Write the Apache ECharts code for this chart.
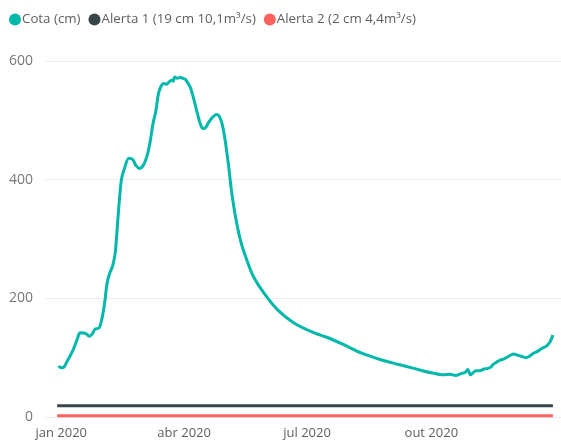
<!DOCTYPE html>
<html>
<head>
<meta charset="utf-8">
<script src="https://cdn.jsdelivr.net/npm/echarts@6/dist/echarts.min.js"></script>
<style>
  html, body { margin: 0; padding: 0; background: #ffffff; }
  #chart { width: 561px; height: 445px; }
</style>
</head>
<body>
<div id="chart"></div>
<script>
// Cota (cm) daily gauge readings, 2020
const cotaDates = [
  '2019-12-30','2020-01-01','2020-01-03','2020-01-05','2020-01-10','2020-01-13','2020-01-15',
  '2020-01-19','2020-01-22','2020-01-24','2020-01-26','2020-01-29','2020-01-31','2020-02-02',
  '2020-02-04','2020-02-06','2020-02-08','2020-02-10','2020-02-12','2020-02-14','2020-02-15',
  '2020-02-17','2020-02-20','2020-02-23','2020-02-25','2020-02-28','2020-03-02','2020-03-05',
  '2020-03-07','2020-03-09','2020-03-11','2020-03-13','2020-03-15','2020-03-17','2020-03-19',
  '2020-03-21','2020-03-23','2020-03-24','2020-03-25','2020-03-27','2020-03-29','2020-03-31',
  '2020-04-02','2020-04-04','2020-04-06','2020-04-09','2020-04-11','2020-04-13','2020-04-15',
  '2020-04-17','2020-04-19','2020-04-22','2020-04-25','2020-04-27','2020-04-29','2020-05-01',
  '2020-05-04','2020-05-06','2020-05-09','2020-05-13','2020-05-17','2020-05-22','2020-05-30',
  '2020-06-09','2020-06-21','2020-07-06','2020-07-16','2020-07-29','2020-08-10','2020-08-24',
  '2020-09-06','2020-09-18','2020-09-30','2020-10-10','2020-10-15','2020-10-19','2020-10-23',
  '2020-10-26','2020-10-28','2020-10-30','2020-11-03','2020-11-06','2020-11-09','2020-11-12',
  '2020-11-14','2020-11-16','2020-11-18','2020-11-21','2020-11-24','2020-11-27','2020-12-01',
  '2020-12-04','2020-12-07','2020-12-10','2020-12-13','2020-12-16','2020-12-19','2020-12-22',
  '2020-12-25','2020-12-27','2020-12-28','2020-12-30'
];
const cotaValues = [
  86, 83, 84, 92, 114, 132, 142,
  141, 136, 140, 148, 150, 164, 190,
  226, 243, 254, 277, 335, 390, 405,
  420, 436, 434, 425, 419, 425, 444,
  466, 495, 515, 545, 558, 562, 561,
  565, 568, 566, 573, 571, 572, 571,
  569, 562, 553, 528, 510, 494, 486,
  488, 496, 505, 510, 507, 495, 472,
  422, 382, 338, 295, 267, 238, 209,
  181, 159, 142, 134, 121, 108, 97,
  89, 82, 75, 71, 72, 70, 73,
  75, 80, 71, 78, 78, 81, 82,
  84, 89, 92, 96, 98, 102, 106,
  104, 102, 100, 103, 108, 111, 116,
  119, 124, 127, 138
];

// Alert thresholds, constant over the period
const alertDates = ['2019-12-29', '2020-12-30'];
const alerta1Values = [19, 19];
const alerta2Values = [2, 2];

const seriesNames = ['Cota (cm)', 'Alerta 1 (19 cm 10,1m³/s)', 'Alerta 2 (2 cm 4,4m³/s)'];
const seriesColors = ['#01B8AA', '#374649', '#FD625E'];

// Quarterly axis labels
const monthNames = ['jan','fev','mar','abr','mai','jun','jul','ago','set','out','nov','dez'];
const xTickDates = ['2020-01-01', '2020-04-01', '2020-07-01', '2020-10-01'];
const yTicks = [0, 200, 400, 600];

function toTime(s) {
  const p = s.split('-').map(Number);
  return new Date(p[0], p[1] - 1, p[2]).getTime();
}
function pairs(dates, values) {
  return dates.map((d, i) => [toTime(d), values[i]]);
}

const FONT = 'Open Sans';
const chart = echarts.init(document.getElementById('chart'), null, { renderer: 'canvas' });

chart.setOption({
  animation: false,
  backgroundColor: '#ffffff',
  color: seriesColors,
  textStyle: { fontFamily: FONT },
  legend: {
    left: 9,
    top: 13,
    icon: 'circle',
    itemWidth: 12,
    itemHeight: 12,
    itemGap: 8,
    padding: 0,
    data: seriesNames,
    textStyle: { fontFamily: FONT, fontSize: 13.3, color: '#605E5C', padding: [0, 0, 0, -4] }
  },
  grid: { left: 45, right: 0, top: 61, bottom: 28, containLabel: false },
  xAxis: {
    type: 'value',
    min: toTime('2019-12-20'),
    max: toTime('2021-01-05'),
    axisLine: { show: false },
    axisTick: { show: false },
    splitLine: { show: false },
    axisLabel: {
      customValues: xTickDates.map(toTime),
      fontFamily: FONT,
      fontSize: 13,
      color: '#605E5C',
      margin: 10,
      showMinLabel: true,
      showMaxLabel: true,
      formatter: function (v) {
        const d = new Date(v);
        return monthNames[d.getMonth()] + ' ' + d.getFullYear();
      }
    }
  },
  yAxis: {
    type: 'value',
    min: yTicks[0],
    max: yTicks[yTicks.length - 1],
    interval: 200,
    axisLine: { show: false },
    axisTick: { show: false },
    axisLabel: { fontFamily: FONT, fontSize: 14, color: '#777777', margin: 12 },
    splitLine: { lineStyle: { color: '#EDEDED', width: 1 } }
  },
  series: [
    {
      name: seriesNames[0],
      type: 'line',
      data: pairs(cotaDates, cotaValues),
      showSymbol: false,
      smooth: 0.3,
      lineStyle: { width: 3, color: seriesColors[0] },
      z: 3
    },
    {
      name: seriesNames[1],
      type: 'line',
      data: pairs(alertDates, alerta1Values),
      showSymbol: false,
      lineStyle: { width: 3, color: seriesColors[1] },
      z: 2
    },
    {
      name: seriesNames[2],
      type: 'line',
      data: pairs(alertDates, alerta2Values),
      showSymbol: false,
      lineStyle: { width: 3, color: seriesColors[2] },
      z: 2
    }
  ]
});
</script>
</body>
</html>
